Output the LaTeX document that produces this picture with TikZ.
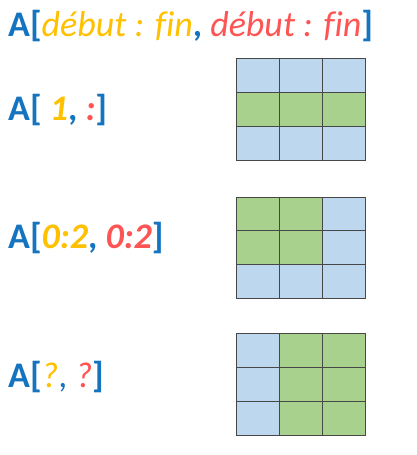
\documentclass[tikz,border=0pt]{standalone}
\usepackage{fontspec}
\setmainfont{Carlito}[Ligatures=NoCommon]
\usepackage{xcolor}
\usepackage{tikz}
\usetikzlibrary{positioning}
\definecolor{idxblue}{HTML}{1474BF}
\definecolor{idxyellow}{HTML}{FFC000}
\definecolor{idxred}{HTML}{FF5454}
\definecolor{cellblue}{HTML}{BDD7EE}
\definecolor{cellgreen}{HTML}{A9D18E}

\begin{document}
\begin{tikzpicture}[
    x=1pt, y=-1pt,
    expr/.style={anchor=base west, inner sep=0pt, text=idxblue, font=\fontsize{36}{40}\selectfont},
    cell/.style={draw=black!72, line width=1pt}
]
\useasboundingbox (0,0) rectangle (417,455);

% slicing expressions
\node[expr] (syntax) at (8,36) {\textbf{A[}\textcolor{idxyellow}{\textit{début : fin}}\textbf{,} \textcolor{idxred}{\textit{début : fin}}\textbf{]}};
\node[expr] (row) at (8,120) {\textbf{A[ \textcolor{idxyellow}{\textit{1}}, \textcolor{idxred}{\textit{:}}]}};
\node[expr] (block) at (8,248) {\textbf{A[\textcolor{idxyellow}{\textit{0:2}}, \textcolor{idxred}{\textit{0:2}}]}};
\node[expr] (quiz) at (8,387) {\textbf{A[}\textcolor{idxyellow}{\textit{?}}, \textcolor{idxred}{\textit{?}}\textbf{]}};

% 3x3 arrays
\foreach \f [count=\k from 0] in {blue,blue,blue,green,green,green,blue,blue,blue}
  \draw[cell, fill=cell\f] ({236+43.33*mod(\k,3)}, {58+34*int(\k/3)}) rectangle +(43.33,34);
\foreach \f [count=\k from 0] in {green,green,blue,green,green,blue,blue,blue,blue}
  \draw[cell, fill=cell\f] ({236+43.33*mod(\k,3)}, {197+33.7*int(\k/3)}) rectangle +(43.33,33.7);
\foreach \f [count=\k from 0] in {blue,green,green,blue,green,green,blue,green,green}
  \draw[cell, fill=cell\f] ({236+43.33*mod(\k,3)}, {333+34*int(\k/3)}) rectangle +(43.33,34);
\end{tikzpicture}
\end{document}
